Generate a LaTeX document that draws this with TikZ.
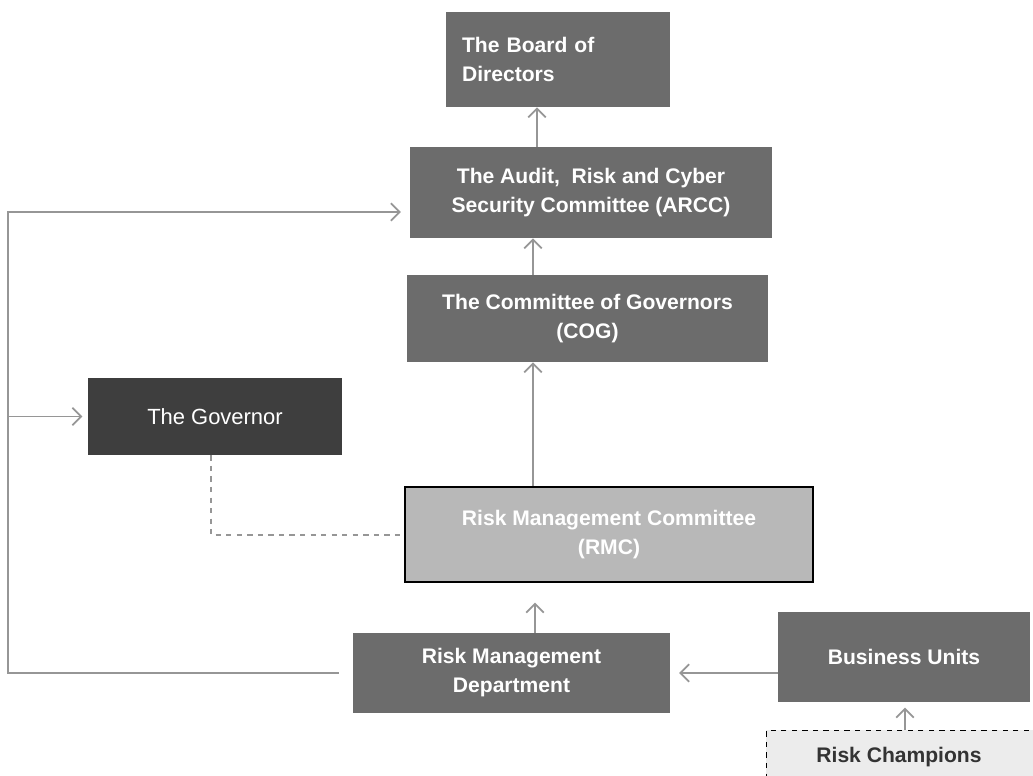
\documentclass[tikz,border=0pt]{standalone}
\usepackage{fontspec}
\setmainfont{Liberation Sans}
\usetikzlibrary{arrows.meta}
\definecolor{boxgrey}{RGB}{108,108,108}
\definecolor{govgrey}{RGB}{62,62,62}
\definecolor{rmcgrey}{RGB}{184,184,184}
\definecolor{linegrey}{RGB}{150,150,150}
\definecolor{champgrey}{RGB}{236,236,236}
\tikzset{
    unit/.style={fill=boxgrey, text=white, font=\bfseries\fontsize{12}{16.5}\selectfont,
        align=center, inner sep=0pt},
    link/.style={draw=linegrey, line width=1pt, -{Straight Barb[length=5pt,width=10pt]}},
}
\begin{document}
\begin{tikzpicture}[x=0.02cm, y=-0.02cm]
    \useasboundingbox (0,0) rectangle (1033,775);
    % Boxes
    \node [unit, minimum width=4.48cm, minimum height=1.9cm, text width=3.84cm, align=left] (board) at (558,59.5) {The Board of\\Directors};
    \node [unit, minimum width=7.24cm, minimum height=1.82cm] (arcc) at (591,192.5) {The Audit,\ \ Risk and Cyber\\Security Committee (ARCC)};
    \node [unit, minimum width=7.22cm, minimum height=1.74cm] (cog) at (587.5,318.5) {The Committee of Governors\\(COG)};
    \node [unit, fill=govgrey, font=\fontsize{12.5}{15}\selectfont, minimum width=5.08cm, minimum height=1.54cm] (governor) at (215,416.5) {The Governor};
    \node [unit, fill=rmcgrey, draw=black, line width=1.5pt, minimum width=8.16cm, minimum height=1.9cm] (rmc) at (609,534.5) {Risk Management Committee\\(RMC)};
    \node [unit, minimum width=6.34cm, minimum height=1.6cm] (rmd) at (511.5,673) {Risk Management\\Department};
    \node [unit, minimum width=5.04cm, minimum height=1.8cm] (bu) at (904,657) {Business Units};
    \node [unit, fill=champgrey, text=black!80, draw=black, dashed, minimum width=5.4cm, minimum height=1.2cm, anchor=north west] (champions) at (766,730) {};
    \node [text=black!80, font=\bfseries\fontsize{12}{14}\selectfont, anchor=base] (champlabel) at (899,762) {Risk Champions};
    % Reporting lines
    \coordinate (corner) at (8,673);
    \coordinate (top) at (8,212);
    \coordinate (branch) at (8,416.5);
    \draw [link] ([xshift=-8pt]rmd.west) -- (corner) -- (top) -- ([xshift=-5pt]arcc.west |- top);
    \draw [link] (branch) -- ([xshift=-3pt]governor.west);
    \draw [draw=linegrey, line width=1pt, dashed] (governor.south -| 211,0) -- (211,535) -- (rmc.west |- 0,535);
    \draw [link] (arcc.north -| 537,0) -- (board.south -| 537,0);
    \draw [link] (cog.north -| 533,0) -- (arcc.south -| 533,0);
    \draw [link] (rmc.north -| 533,0) -- (cog.south -| 533,0);
    \draw [link] (rmd.north -| 535,0) -- ([yshift=-11pt]rmc.south -| 535,0);
    \draw [link] (bu.west |- 0,673) -- ([xshift=5pt]rmd.east |- 0,673);
    \draw [link] (champions.north -| 905,0) -- ([yshift=-3pt]bu.south -| 905,0);
\end{tikzpicture}
\end{document}
